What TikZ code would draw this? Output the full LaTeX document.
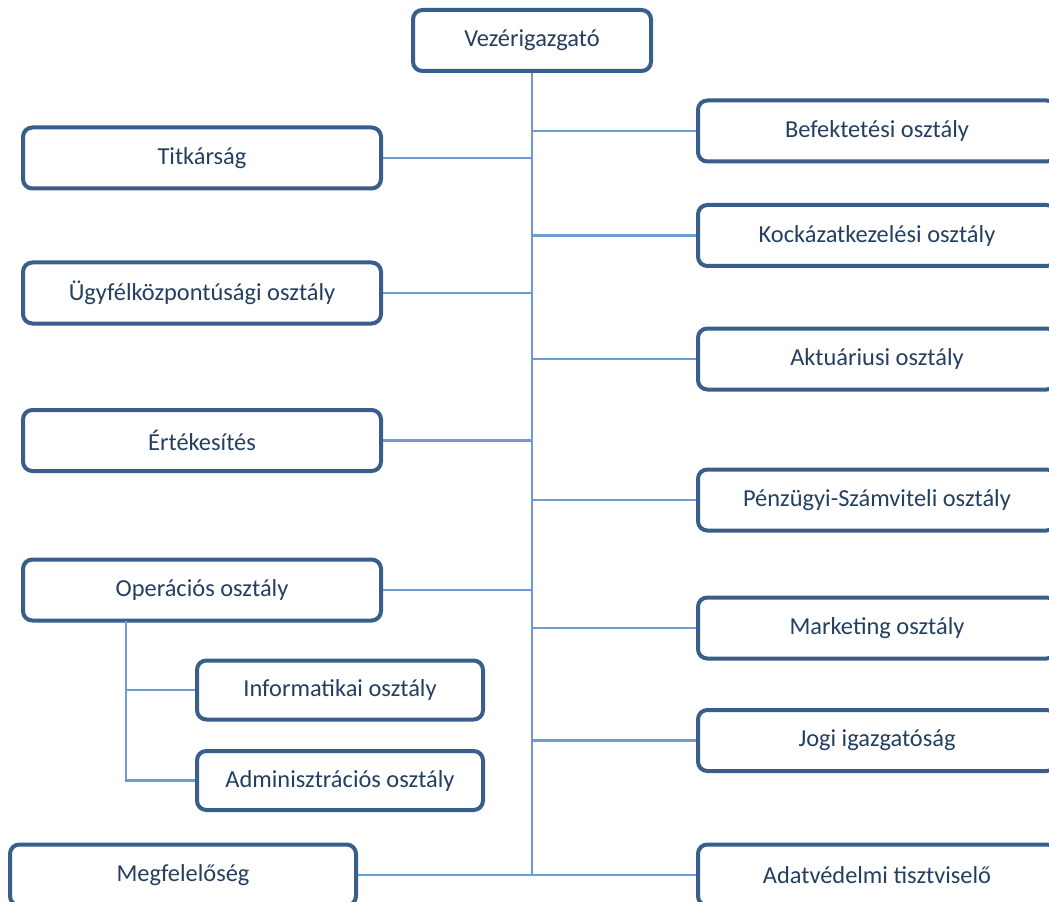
\documentclass[tikz,border=0pt]{standalone}
\usepackage{fontspec}
\setmainfont{Carlito}
\definecolor{boxborder}{HTML}{3A5E8C}
\definecolor{boxtext}{HTML}{243F60}
\definecolor{linkline}{HTML}{6E9BD1}
\begin{document}
\begin{tikzpicture}[x=0.75pt,y=-0.75pt,
  orgbox/.style={draw=boxborder, line width=3pt, rounded corners=7pt, fill=white,
    text=boxtext, font=\fontsize{18.3pt}{22pt}\selectfont, inner sep=0pt,
    minimum height=45.75pt},
  widebox/.style={orgbox, minimum width=268.5pt},
  subbox/.style={orgbox, minimum width=214.5pt, minimum height=44.25pt},
  link/.style={draw=linkline, line width=1.6pt}]
\useasboundingbox (0,0) rectangle (1049,902);
% top
\node[orgbox, minimum width=178.5pt] (vez) at (532,40.5) {Vezérigazgató};
% left column
\node[widebox] (tit) at (202,158) {Titkárság};
\node[widebox] (ugy) at (202,293) {Ügyfélközpontúsági osztály};
\node[widebox] (ert) at (202,440.5) {Értékesítés};
\node[widebox] (ope) at (202,590) {Operációs osztály};
\node[subbox] (inf) at (340,690) {Informatikai osztály};
\node[subbox] (adm) at (340,780.5) {Adminisztrációs osztály};
\node[orgbox, minimum width=259.5pt] (meg) at (183,875) {Megfelelőség};
% right column
\node[widebox] (bef) at (877,131) {Befektetési osztály};
\node[widebox] (koc) at (877,235.5) {Kockázatkezelési osztály};
\node[widebox] (akt) at (877,359) {Aktuáriusi osztály};
\node[widebox] (pen) at (877,500) {Pénzügyi-Számviteli osztály};
\node[widebox] (mar) at (877,628) {Marketing osztály};
\node[widebox] (jog) at (877,740.5) {Jogi igazgatóság};
\node[widebox] (ada) at (877,875) {Adatvédelmi tisztviselő};
% connectors
\coordinate (tb) at (vez.south |- meg.east);
\draw[link] (vez.south) -- (tb);
\draw[link] (meg.east) -- (ada.west);
\foreach \n in {tit,ugy,ert,ope}{\draw[link] (\n.east) -- (vez.south |- \n.east);}
\foreach \n in {bef,koc,akt,pen,mar,jog}{\draw[link] (vez.south |- \n.west) -- (\n.west);}
\coordinate (sj) at (126,621);
\draw[link] (sj) |- (inf.west);
\draw[link] (sj) |- (adm.west);
\end{tikzpicture}
\end{document}
